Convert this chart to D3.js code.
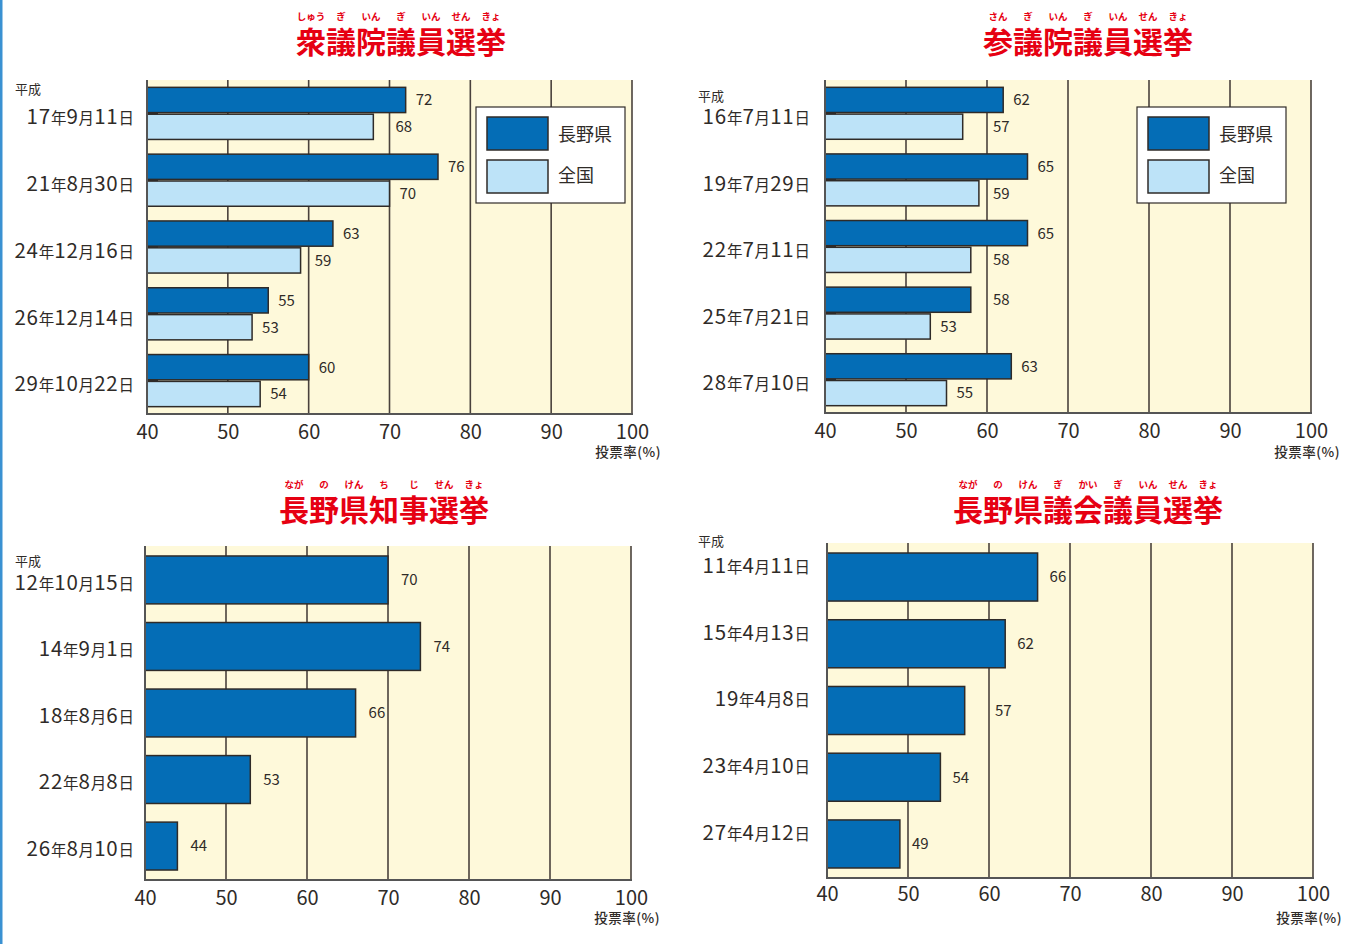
<!DOCTYPE html>
<html>
<head>
<meta charset="utf-8">
<script src="https://cdn.jsdelivr.net/npm/d3@7"></script>
<style>
  body { margin: 0; background: #fff; }
  svg { display: block; }
  text { font-family: "Noto Sans CJK JP", "Noto Sans", sans-serif; }
</style>
</head>
<body>
<svg id="chart" width="1351" height="944"></svg>
<script>
// ---- data -------------------------------------------------------------
const xTicks = [40, 50, 60, 70, 80, 90, 100];
const axisTitle = "投票率(%)";
const eraLabel = "平成";
const legendLabels = ["長野県", "全国"];

// 衆議院議員選挙
const shuTitle = "衆議院議員選挙";
const shuRuby = ["しゅう", "ぎ", "いん", "ぎ", "いん", "せん", "きょ"];
const shuDates = ["17年9月11日", "21年8月30日", "24年12月16日", "26年12月14日", "29年10月22日"];
const shuNagano = [72, 76, 63, 55, 60];
const shuZenkoku = [68, 70, 59, 53, 54];

// 参議院議員選挙
const sanTitle = "参議院議員選挙";
const sanRuby = ["さん", "ぎ", "いん", "ぎ", "いん", "せん", "きょ"];
const sanDates = ["16年7月11日", "19年7月29日", "22年7月11日", "25年7月21日", "28年7月10日"];
const sanNagano = [62, 65, 65, 58, 63];
const sanZenkoku = [57, 59, 58, 53, 55];

// 長野県知事選挙
const chijiTitle = "長野県知事選挙";
const chijiRuby = ["なが", "の", "けん", "ち", "じ", "せん", "きょ"];
const chijiDates = ["12年10月15日", "14年9月1日", "18年8月6日", "22年8月8日", "26年8月10日"];
const chijiNagano = [70, 74, 66, 53, 44];

// 長野県議会議員選挙
const kengiTitle = "長野県議会議員選挙";
const kengiRuby = ["なが", "の", "けん", "ぎ", "かい", "ぎ", "いん", "せん", "きょ"];
const kengiDates = ["11年4月11日", "15年4月13日", "19年4月8日", "23年4月10日", "27年4月12日"];
const kengiNagano = [66, 62, 57, 54, 49];

// ---- style ------------------------------------------------------------
const COLOR = {
  nagano: "#046db6",
  zenkoku: "#bde3f8",
  plotBg: "#fef9da",
  grid: "#4a423c",
  ink: "#2f2b28",
  title: "#e60012",
  edge: "#3a91d2"
};

const svg = d3.select("#chart");
const W = 1351, H = 944;

// page edge rule on the left
svg.append("rect").attr("x", 0).attr("y", 0).attr("width", 2.5).attr("height", H).attr("fill", COLOR.edge);

// date label: numerals large, 年/月/日 small
function dateLabel(sel, str, bigSize, smallSize) {
  const parts = str.split(/(\d+)/).filter(s => s.length);
  sel.selectAll("tspan").data(parts).join("tspan")
    .attr("font-size", d => /\d/.test(d) ? bigSize : smallSize)
    .attr("letter-spacing", d => /\d/.test(d) ? 0.8 : 0)
    .text(d => d);
}

function drawPanel(p) {
  const g = svg.append("g");
  const x = d3.scaleLinear().domain([40, 100]).range([p.left, p.right]);
  const y = d3.scaleBand().domain(p.dates).range([p.top, p.bottom])
    .paddingInner(p.padIn).paddingOuter(p.padOut);
  const sub = d3.scaleBand().domain(d3.range(p.series.length))
    .range([0, y.bandwidth()]).paddingInner(p.series.length > 1 ? 0.06 : 0);

  // title + furigana
  const fs = 30;
  g.append("text")
    .attr("x", p.titleX).attr("y", p.titleY)
    .attr("text-anchor", "middle")
    .attr("font-size", fs).attr("font-weight", 700)
    .attr("fill", COLOR.title)
    .text(p.title);
  const startX = p.titleX - p.title.length * fs / 2;
  g.selectAll(".ruby").data(p.ruby).join("text")
    .attr("x", (d, i) => startX + fs * (i + 0.5))
    .attr("y", p.titleY - 33)
    .attr("text-anchor", "middle")
    .attr("font-size", 9.5).attr("font-weight", 700)
    .attr("fill", COLOR.title)
    .text(d => d);

  // plot background
  g.append("rect")
    .attr("x", p.left).attr("y", p.top)
    .attr("width", p.right - p.left).attr("height", p.bottom - p.top)
    .attr("fill", COLOR.plotBg);

  // vertical grid lines
  const gridVals = xTicks.slice(1);
  g.selectAll(".grid").data(gridVals).join("line")
    .attr("x1", d => x(d)).attr("x2", d => x(d))
    .attr("y1", p.top).attr("y2", p.bottom)
    .attr("stroke", COLOR.grid).attr("stroke-width", 1.6);

  // value label position: just past the bar end, stepping over a grid line if it would cross one
  const labelW = 17;
  function labelX(v) {
    let tx = x(v) + p.labelGap;
    gridVals.forEach(gv => {
      const gx = x(gv);
      if (gx > tx - 3 && gx < tx + labelW + 2) tx = gx + 6;
    });
    return tx;
  }

  // bars and value labels
  p.series.forEach((s, si) => {
    const rows = p.dates.map((d, i) => ({ d, v: s.values[i] }));
    g.selectAll(null).data(rows).join("rect")
      .attr("x", x(40))
      .attr("y", r => y(r.d) + sub(si))
      .attr("width", r => x(r.v) - x(40))
      .attr("height", sub.bandwidth())
      .attr("fill", s.fill)
      .attr("stroke", COLOR.ink).attr("stroke-width", 1.5);
    g.selectAll(null).data(rows).join("text")
      .attr("x", r => labelX(r.v))
      .attr("y", r => y(r.d) + sub(si) + sub.bandwidth() / 2)
      .attr("dy", "0.36em")
      .attr("font-size", 15)
      .attr("fill", COLOR.ink)
      .text(r => r.v);
  });

  // inward category ticks between paired bars
  if (p.series.length > 1) {
    g.selectAll(".ctick").data(p.dates).join("line")
      .attr("x1", x(40)).attr("x2", x(40) + 11)
      .attr("y1", d => y(d) + y.bandwidth() / 2)
      .attr("y2", d => y(d) + y.bandwidth() / 2)
      .attr("stroke", COLOR.ink).attr("stroke-width", 2);
  }

  // axis lines
  g.append("line")
    .attr("x1", p.left).attr("x2", p.left).attr("y1", p.top).attr("y2", p.bottom + 1)
    .attr("stroke", "#555").attr("stroke-width", 2);
  g.append("line")
    .attr("x1", p.left - 1).attr("x2", p.right + 1).attr("y1", p.bottom).attr("y2", p.bottom)
    .attr("stroke", "#555").attr("stroke-width", 2);

  // x axis labels
  const ax = g.append("g").attr("transform", `translate(0,${p.bottom})`)
    .call(d3.axisBottom(x).tickValues(xTicks).tickSize(0).tickPadding(p.tickPad));
  ax.select(".domain").remove();
  ax.selectAll("text")
    .attr("font-size", 20)
    .attr("fill", COLOR.ink)
    .style("font-family", '"Noto Sans CJK JP", sans-serif');

  g.append("text")
    .attr("x", x(100) + 29).attr("y", p.bottom + p.axisTitleDy)
    .attr("text-anchor", "end")
    .attr("font-size", 13.5).attr("font-weight", 500)
    .attr("letter-spacing", 0.5)
    .attr("fill", COLOR.ink)
    .text(axisTitle);

  // category labels
  g.selectAll(".cat").data(p.dates).join("text")
    .attr("x", p.catX)
    .attr("y", d => y(d) + y.bandwidth() / 2 + p.catDy)
    .attr("dy", "0.36em")
    .attr("text-anchor", "end")
    .attr("fill", COLOR.ink)
    .each(function (d) { dateLabel(d3.select(this), d, 20.5, 15.5); });

  g.append("text")
    .attr("x", p.eraX).attr("y", p.eraY)
    .attr("dy", "0.36em")
    .attr("font-size", 13)
    .attr("fill", COLOR.ink)
    .text(eraLabel);

  // legend
  if (p.legend) {
    const L = p.legend;
    const lg = g.append("g").attr("transform", `translate(${L.x},${L.y})`);
    lg.append("rect").attr("width", 149).attr("height", 96)
      .attr("fill", "#fff").attr("stroke", COLOR.ink).attr("stroke-width", 1.2);
    p.series.forEach((s, i) => {
      lg.append("rect")
        .attr("x", 11).attr("y", 10 + i * 43)
        .attr("width", 61).attr("height", 33)
        .attr("fill", s.fill).attr("stroke", COLOR.ink).attr("stroke-width", 1.5);
      lg.append("text")
        .attr("x", 82).attr("y", 28 + i * 41)
        .attr("dy", "0.36em")
        .attr("font-size", 18)
        .attr("fill", COLOR.ink)
        .text(legendLabels[i]);
    });
  }
}

drawPanel({
  title: shuTitle, ruby: shuRuby, titleX: 401, titleY: 53,
  dates: shuDates,
  series: [{ values: shuNagano, fill: COLOR.nagano }, { values: shuZenkoku, fill: COLOR.zenkoku }],
  left: 147, right: 632, top: 80, bottom: 414,
  padIn: 0.22, padOut: 0.11, labelGap: 10, catX: 134, catDy: 5, tickPad: 11, axisTitleDy: 43,
  eraX: 15, eraY: 89,
  legend: { x: 476, y: 107 }
});

drawPanel({
  title: sanTitle, ruby: sanRuby, titleX: 1088, titleY: 53,
  dates: sanDates,
  series: [{ values: sanNagano, fill: COLOR.nagano }, { values: sanZenkoku, fill: COLOR.zenkoku }],
  left: 825, right: 1311, top: 80, bottom: 413,
  padIn: 0.22, padOut: 0.11, labelGap: 10, catX: 810, catDy: 5, tickPad: 11, axisTitleDy: 44,
  eraX: 698, eraY: 96,
  legend: { x: 1137, y: 107 }
});

drawPanel({
  title: chijiTitle, ruby: chijiRuby, titleX: 384, titleY: 521,
  dates: chijiDates,
  series: [{ values: chijiNagano, fill: COLOR.nagano }],
  left: 145, right: 631, top: 546, bottom: 880,
  padIn: 0.28, padOut: 0.15, labelGap: 13, catX: 134, catDy: 4, tickPad: 11, axisTitleDy: 43,
  eraX: 15, eraY: 561
});

drawPanel({
  title: kengiTitle, ruby: kengiRuby, titleX: 1088, titleY: 521,
  dates: kengiDates,
  series: [{ values: kengiNagano, fill: COLOR.nagano }],
  left: 827, right: 1313, top: 543, bottom: 878,
  padIn: 0.28, padOut: 0.15, labelGap: 12, catX: 810, catDy: -10, tickPad: 9, axisTitleDy: 45,
  eraX: 698, eraY: 541
});
</script>
</body>
</html>
